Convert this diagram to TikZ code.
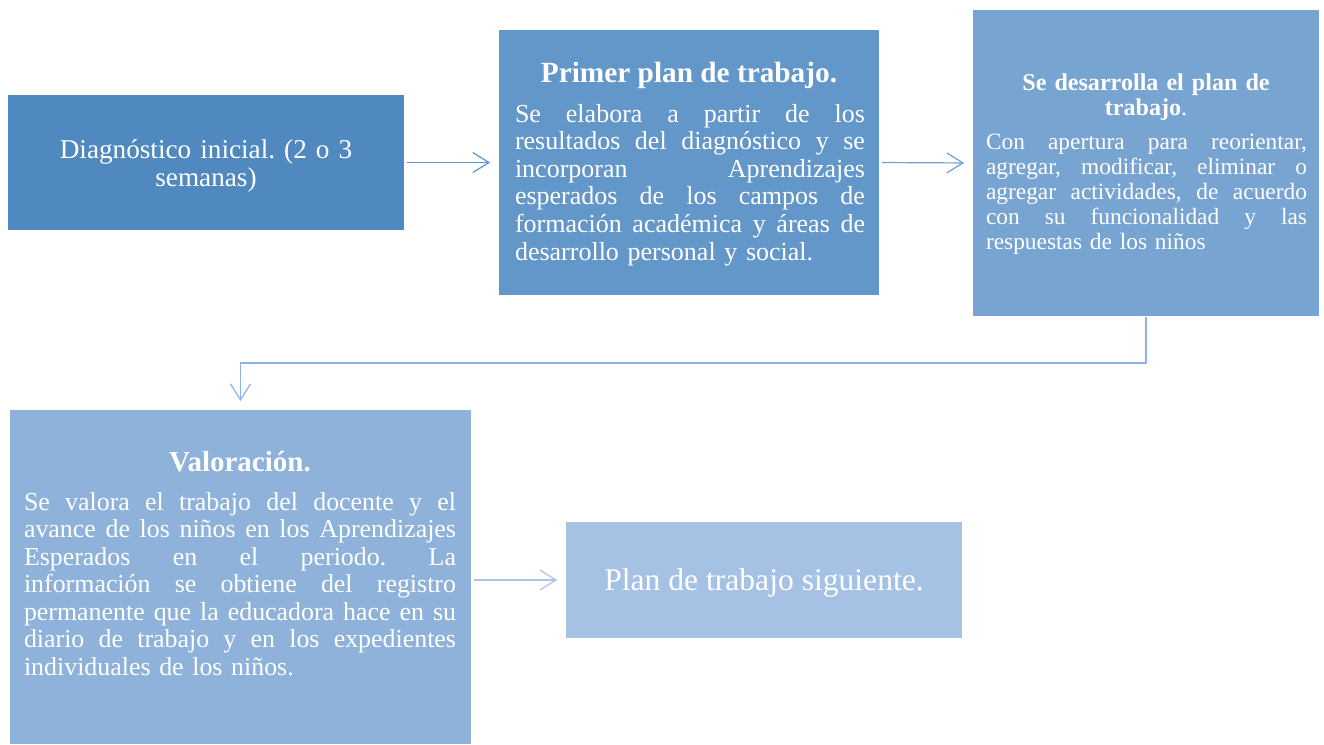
\documentclass[tikz,border=0pt]{standalone}
\usepackage{fontspec}
\setmainfont{Liberation Serif}
\usetikzlibrary{arrows.meta}
\definecolor{cA}{HTML}{5089C0}
\definecolor{cB}{HTML}{6397C9}
\definecolor{cC}{HTML}{78A4D2}
\definecolor{cD}{HTML}{8FB2DA}
\definecolor{cE}{HTML}{A5C1E4}
\definecolor{aA}{HTML}{5E95D0}
\definecolor{aB}{HTML}{6C9FD6}
\definecolor{aC}{HTML}{8DB3E2}
\definecolor{aD}{HTML}{A9C6EA}
\newcommand{\jline}[2]{\leavevmode\hbox to #1{\spaceskip=\fontdimen2\font plus 1fil minus \fontdimen4\font\relax #2}\par}
\frenchspacing
\tikzset{
  panel/.style={draw=none, inner sep=0pt, outer sep=0pt, anchor=north west},
  txt/.style={text=white, inner sep=0pt, outer sep=0pt},
  conn/.style={line width=1.2pt, -{Straight Barb[length=16pt,width=20pt,line width=1.2pt]}, shorten <=3pt, shorten >=9pt}
}
\begin{document}
\begin{tikzpicture}[x=1pt,y=-1pt]
\useasboundingbox[fill=white] (0,0) rectangle (1324,744);
% boxes
\node[panel, fill=cA, minimum width=396pt, minimum height=135pt] (A) at (8,95) {};
\node[panel, fill=cB, minimum width=380pt, minimum height=265pt] (B) at (499,30) {};
\node[panel, fill=cC, minimum width=346pt, minimum height=306pt] (C) at (973,10) {};
\node[panel, fill=cD, minimum width=461pt, minimum height=334pt] (D) at (10,410) {};
\node[panel, fill=cE, minimum width=396pt, minimum height=116pt] (E) at (566,522) {};
% texts
\node[txt, anchor=base, text width=340pt, align=center, font={\fontsize{27.2}{28}\selectfont}] (At) at (206,158)
  {Diagnóstico inicial. (2 o 3\\ semanas)};
\node[txt, anchor=base, font={\bfseries\fontsize{29.3}{30}\selectfont}] (Bh) at (689,82) {Primer plan de trabajo.};
\node[txt, anchor=base west, text width=350pt, font={\fontsize{26}{27.6}\selectfont}] (Bt) at (515,122)
  {\jline{350pt}{Se elabora a partir de los}
   \jline{350pt}{resultados del diagnóstico y se}
   \jline{350pt}{incorporan Aprendizajes}
   \jline{350pt}{esperados de los campos de}
   \jline{350pt}{formación académica y áreas de}
   \leavevmode desarrollo personal y social.\par};
\node[txt, anchor=base, text width=320pt, align=center, font={\fontsize{24.1}{25}\selectfont}] (Ch) at (1146,90)
  {\textbf{Se desarrolla el plan de}\\ \textbf{trabajo}.};
\node[txt, anchor=base west, text width=321pt, font={\fontsize{23.4}{25}\selectfont}] (Ct) at (986,149)
  {\jline{321pt}{Con apertura para reorientar,}
   \jline{321pt}{agregar, modificar, eliminar o}
   \jline{321pt}{agregar actividades, de acuerdo}
   \jline{321pt}{con su funcionalidad y las}
   \leavevmode respuestas de los niños\par};
\node[txt, anchor=base, font={\bfseries\fontsize{29}{30}\selectfont}] (Dh) at (240,471) {Valoración.};
\node[txt, anchor=base west, text width=432pt, font={\fontsize{25.9}{27.5}\selectfont}] (Dt) at (24,510)
  {\jline{432pt}{Se valora el trabajo del docente y el}
   \jline{432pt}{avance de los niños en los Aprendizajes}
   \jline{432pt}{Esperados en el periodo. La}
   \jline{432pt}{información se obtiene del registro}
   \jline{432pt}{permanente que la educadora hace en su}
   \jline{432pt}{diario de trabajo y en los expedientes}
   \leavevmode individuales de los niños.\par};
\node[txt, anchor=base, font={\fontsize{31.6}{33}\selectfont}] (Et) at (764,590) {Plan de trabajo siguiente.};
% connectors
\coordinate (elbow) at (0,363);
\draw[conn, draw=aA] (A.east) -- (B.west);
\draw[conn, draw=aB] (B.east) -- (C.west);
\draw[conn, draw=aC, shorten <=1pt] (C.south) -- (C.south |- elbow) -| (D.north);
\draw[conn, draw=aD] (D.east |- E.west) -- (E.west);
\end{tikzpicture}
\end{document}
